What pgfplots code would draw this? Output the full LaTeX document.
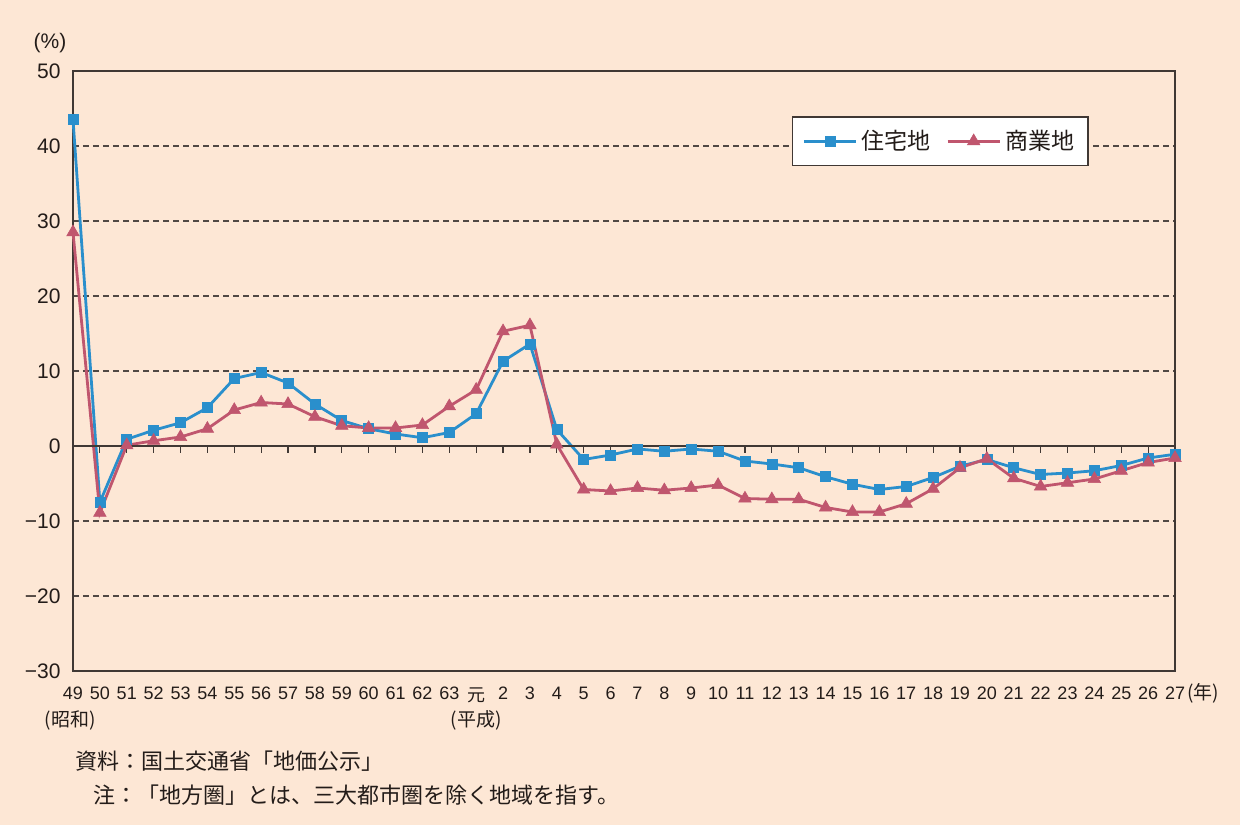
\documentclass[border=0pt]{standalone}
\usepackage{fontspec}
\setmainfont{Liberation Sans}
\newfontfamily\jp{Noto Sans CJK JP}
\usepackage{pgfplots}
\pgfplotsset{compat=1.18}
\usepackage{pgfplotstable}

\definecolor{bgpeach}{RGB}{253,231,213}
\definecolor{framecol}{RGB}{64,56,52}
\definecolor{gridcol}{RGB}{80,72,68}
\definecolor{cRes}{RGB}{42,143,204}
\definecolor{cCom}{RGB}{192,86,110}
\definecolor{txt}{RGB}{35,28,25}

% idx 0 = Showa 49 ... 14 = Showa 63, 15 = Heisei gan'nen, 16 = Heisei 2 ... 41 = Heisei 27
\pgfplotstableread{
idx res com
0 43.5 28.5
1 -7.5 -8.9
2 0.9 0.1
3 2.1 0.7
4 3.1 1.2
5 5.1 2.3
6 9.0 4.8
7 9.8 5.8
8 8.4 5.6
9 5.6 3.9
10 3.4 2.7
11 2.3 2.4
12 1.6 2.4
13 1.1 2.8
14 1.8 5.3
15 4.3 7.5
16 11.3 15.3
17 13.6 16.1
18 2.2 0.2
19 -1.8 -5.8
20 -1.2 -6.0
21 -0.4 -5.6
22 -0.7 -5.9
23 -0.4 -5.6
24 -0.7 -5.2
25 -2.0 -7.0
26 -2.4 -7.1
27 -2.9 -7.1
28 -4.1 -8.2
29 -5.1 -8.8
30 -5.8 -8.8
31 -5.4 -7.7
32 -4.2 -5.7
33 -2.7 -2.9
34 -1.8 -1.7
35 -2.9 -4.3
36 -3.8 -5.4
37 -3.6 -4.9
38 -3.3 -4.4
39 -2.6 -3.3
40 -1.6 -2.2
41 -1.1 -1.6
}\landdata

\begin{document}
\begin{tikzpicture}
\fill[bgpeach] (0,0) rectangle (620pt,412.5pt);
\useasboundingbox (0,0) rectangle (620pt,412.5pt);
\begin{axis}[
  at={(36.5pt,77pt)}, anchor=south west,
  scale only axis, width=551pt, height=300pt,
  xmin=0, xmax=41, ymin=-30, ymax=50,
  axis line style={framecol, line width=0.8pt},
  xtick={0,...,41},
  xticklabels={49,50,51,52,53,54,55,56,57,58,59,60,61,62,63,{\jp 元},2,3,4,5,6,7,8,9,10,11,12,13,14,15,16,17,18,19,20,21,22,23,24,25,26,27},
  ytick={-30,-20,...,50},
  yticklabels={−30,−20,−10,0,10,20,30,40,50},
  major tick length=0pt,
  ymajorgrids,
  grid style={gridcol, line width=0.6pt, dash pattern=on 3pt off 2pt},
  xticklabel style={font=\fontsize{9}{10}\selectfont, text=txt, inner sep=0pt, anchor=north, yshift=-8pt},
  yticklabel style={font=\fontsize{10.5}{12}\selectfont, text=txt, inner sep=0pt, anchor=east, xshift=-6pt},
  legend columns=2,
  legend style={at={(0.787,0.883)}, anchor=center, fill=white, draw=framecol,
    line width=0.8pt, font=\jp\fontsize{11.5}{13}\selectfont, text=txt,
    inner xsep=5pt, inner ysep=4.5pt, nodes={inner sep=2pt},
    /tikz/every even column/.append style={column sep=6pt}},
  legend image code/.code={
    \draw[#1, mark repeat=2, mark phase=2] plot coordinates {(0pt,0pt) (13pt,0pt) (26pt,0pt)};},
  clip=false,
]
\addplot[cRes, line width=1.4pt, mark=square*, mark size=2.5pt,
  mark options={fill=cRes, draw=cRes, line width=0.3pt}] table[x=idx, y=res] {\landdata};
\addlegendentry{住宅地}
\addplot[cCom, line width=1.4pt, mark=triangle*, mark size=3.6pt,
  mark options={fill=cCom, draw=cCom, line width=0.3pt}] table[x=idx, y=com] {\landdata};
\addlegendentry{商業地}
\draw[framecol, line width=0.9pt] (axis cs:0,0) -- (axis cs:41,0);
\pgfplotsinvokeforeach{1,...,40}{
  \draw[framecol, line width=0.6pt] (axis cs:#1,0) -- ++(0pt,-3.5pt);
}
\end{axis}
\node[font=\fontsize{10.5}{12}\selectfont, text=txt] at (25pt,391pt) {(\%)};
\node[font=\jp\fontsize{9.5}{11}\selectfont, text=txt] at (35pt,52.5pt) {(昭和)};
\node[font=\jp\fontsize{9.5}{11}\selectfont, text=txt] at (238pt,52.5pt) {(平成)};
\node[font=\jp\fontsize{9.5}{11}\selectfont, text=txt, anchor=west, inner sep=0pt] at (593.5pt,65.75pt) {(年)};
\node[font=\jp\fontsize{11}{12}\selectfont, text=txt, anchor=west, inner sep=0pt] at (37.5pt,32pt) {資料：国土交通省「地価公示」};
\node[font=\jp\fontsize{11}{12}\selectfont, text=txt, anchor=west, inner sep=0pt] at (46.5pt,15pt) {注：「地方圏」とは、三大都市圏を除く地域を指す。};
\end{tikzpicture}
\end{document}
